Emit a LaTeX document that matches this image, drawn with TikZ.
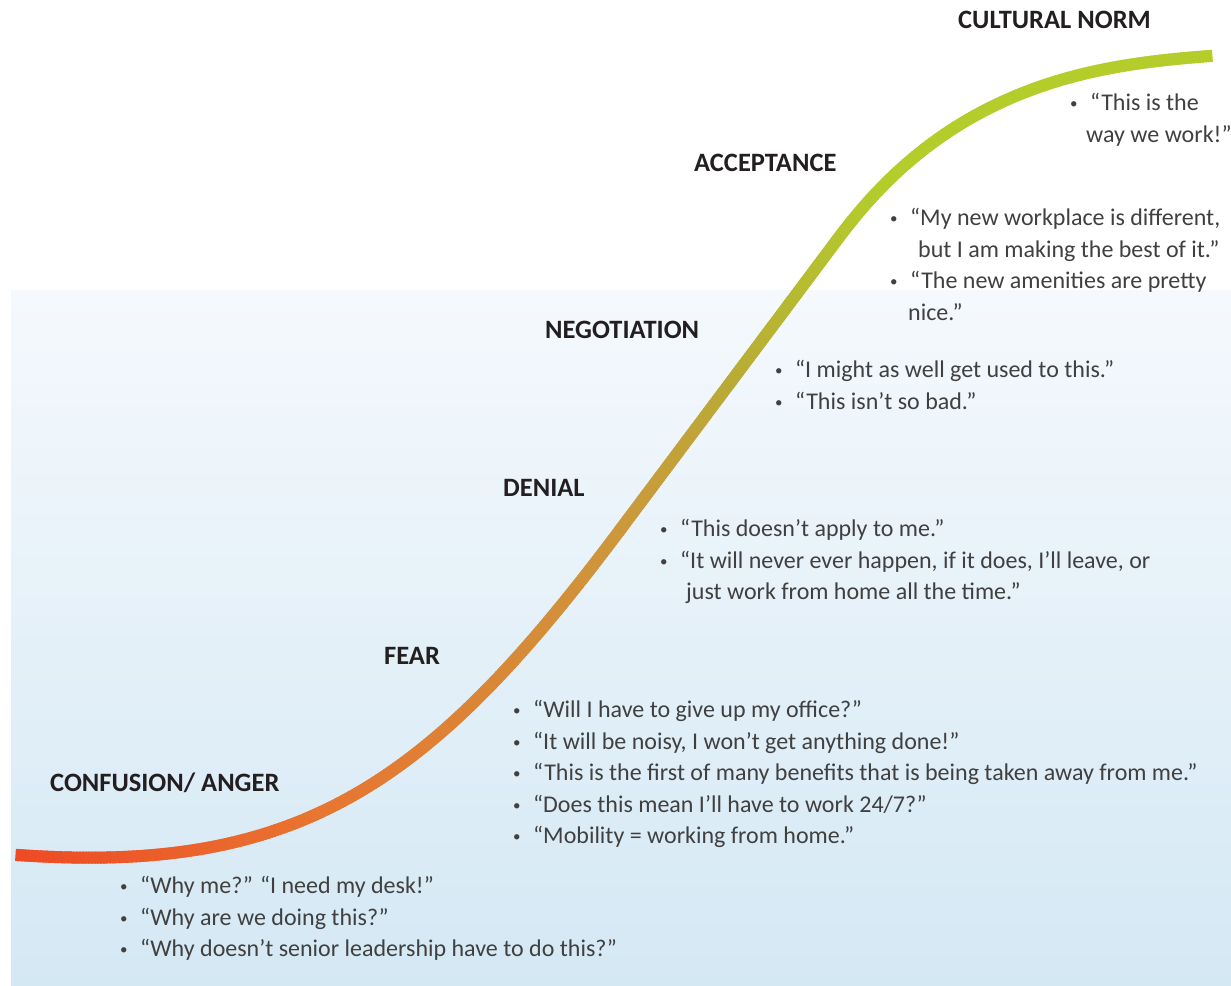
\documentclass[tikz,border=0pt]{standalone}
\usepackage{fontspec}
\setmainfont{Carlito}
\usetikzlibrary{decorations.markings}

\definecolor{bgtop}{HTML}{F5F9FD}
\definecolor{bgbottom}{HTML}{D4E8F4}
\definecolor{stagetext}{HTML}{231F20}
\definecolor{quotetext}{HTML}{404040}
\definecolor{curveA}{HTML}{EE4A24}
\definecolor{curveB}{HTML}{E87530}
\definecolor{curveC}{HTML}{CC983C}
\definecolor{curveD}{HTML}{B9AB35}
\definecolor{curveE}{HTML}{B4CD2B}

\newcommand{\qitem}{\makebox[20pt][l]{\raisebox{2pt}{\fontsize{15}{15}\selectfont\textbullet}}}
% one short piece of the curve, coloured between #1 and #2 over positions #3..#4
\newcommand{\curvepiece}[4]{%
  \pgfmathsetmacro{\mixpct}{max(0,min(100,100*((\pgfkeysvalueof{/pgf/decoration/mark info/distance from start})/\pgfdecoratedpathlength-#3)/(#4-#3)))}%
  \draw[line width=12pt, #2!\mixpct!#1] (-2.5pt,0) -- (2.5pt,0);%
}

\tikzset{
  stage/.style={anchor=west, inner sep=0pt, text=stagetext, font=\fontsize{26.5}{30}\selectfont\bfseries},
  quotes/.style={anchor=north west, inner sep=0pt, align=left, text=quotetext, font=\fontsize{24}{31.5}\selectfont},
}

\begin{document}
\begin{tikzpicture}[x=1pt, y=-1pt]
\useasboundingbox (0,0) rectangle (1231,985);

% The background
\fill[white] (0,0) rectangle (1231,985);
\shade[top color=bgtop, bottom color=bgbottom] (11,290) rectangle (1231,985);

% The change curve
\path[decoration={markings,
    mark=between positions 0 and 0.2 step 3pt with {\curvepiece{curveA}{curveB}{0}{0.2}},
    mark=between positions 0.2 and 0.48 step 3pt with {\curvepiece{curveB}{curveC}{0.2}{0.48}},
    mark=between positions 0.48 and 0.6 step 3pt with {\curvepiece{curveC}{curveD}{0.48}{0.6}},
    mark=between positions 0.6 and 0.76 step 3pt with {\curvepiece{curveD}{curveE}{0.6}{0.76}},
    mark=between positions 0.76 and 1 step 3pt with {\curvepiece{curveE}{curveE}{0.76}{1}}},
  decorate]
  (18,855) .. controls (300,875) and (430,784) .. (620,530)
  -- (840,236)
  .. controls (883,179) and (926,144) .. (969,119)
  .. controls (1049,73) and (1130,62) .. (1210,56);

% Stages
\node[stage] (norm) at (958,20) {CULTURAL NORM};
\node[stage] (accept) at (694,163) {ACCEPTANCE};
\node[stage] (nego) at (545,330) {NEGOTIATION};
\node[stage] (denial) at (503,488) {DENIAL};
\node[stage] (fear) at (384,656) {FEAR};
\node[stage] (anger) at (50,783) {CONFUSION/ ANGER};

% What people say
\node[quotes] (normq) at (1070,93) {\qitem “This is the\\
  \hspace*{16pt}way we work!”};
\node[quotes] (acceptq) at (890,208) {\qitem “My new workplace is different,\\
  \hspace*{28pt}but I am making the best of it.”\\
  \qitem “The new amenities are pretty\\
  \hspace*{18pt}nice.”};
\node[quotes] (negoq) at (775,360) {\qitem “I might as well get used to this.”\\
  \qitem “This isn’t so bad.”};
\node[quotes] (denialq) at (660,519) {\qitem “This doesn’t apply to me.”\\
  \qitem “It will never ever happen, if it does, I’ll leave, or\\
  \hspace*{26pt}just work from home all the time.”};
\node[quotes] (fearq) at (513,700) {\qitem “Will I have to give up my office?”\\
  \qitem “It will be noisy, I won’t get anything done!”\\
  \qitem “This is the first of many benefits that is being taken away from me.”\\
  \qitem “Does this mean I’ll have to work 24/7?”\\
  \qitem “Mobility = working from home.”};
\node[quotes] (angerq) at (120,876) {\qitem “Why me?” “I need my desk!”\\
  \qitem “Why are we doing this?”\\
  \qitem “Why doesn’t senior leadership have to do this?”};

\end{tikzpicture}
\end{document}
